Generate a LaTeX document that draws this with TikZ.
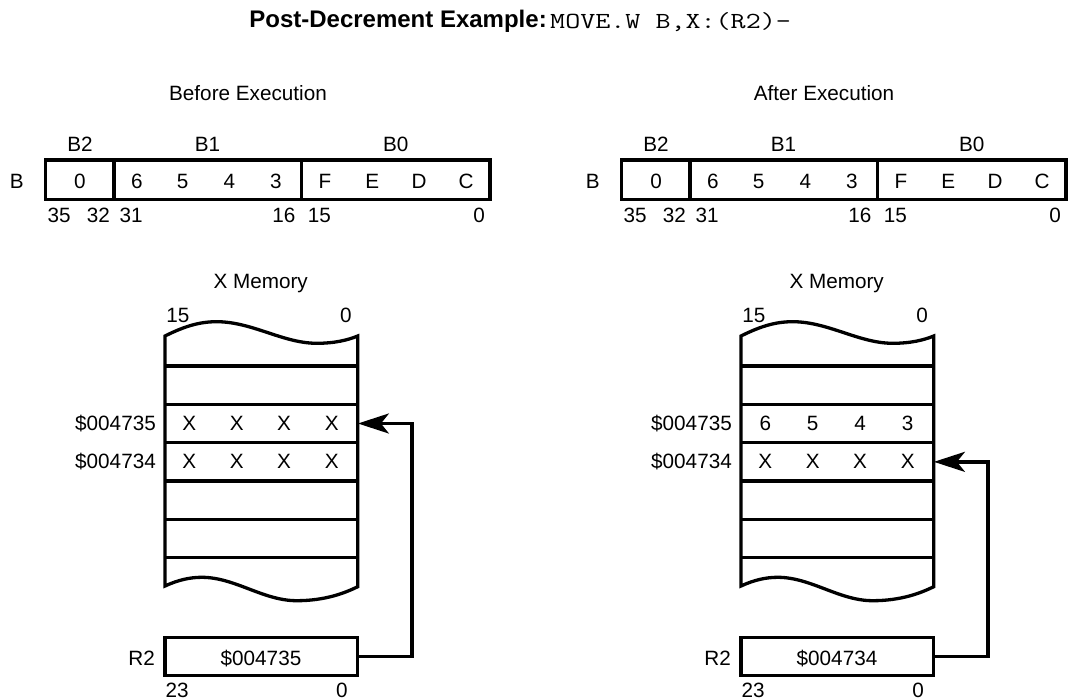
\documentclass[tikz,border=0pt]{standalone}
\usepackage{fontspec}
\setmainfont{Liberation Sans}
\usetikzlibrary{arrows.meta}
\newcommand\lbf{\fontsize{20.7}{24}\selectfont}
\newcommand\addr[1]{#1}
\tikzset{
  txt/.style={font=\lbf, inner sep=0pt, anchor=base},
  rtxt/.style={font=\lbf, inner sep=0pt, anchor=base east},
  cell/.style={draw, line width=3.3pt, inner sep=0pt, minimum height=39.3pt},
  rowc/.style={inner sep=0pt, minimum width=192.7pt, minimum height=38.3pt},
  wire/.style={line width=3.3pt},
  ptr/.style={line width=3.3pt, -{Stealth[length=31pt,width=20pt,inset=8pt]}},
}
% #1 prefix, #2 shift, #3 title, #4-#7 row $004735 contents, #8 R2 value, #9 target row
\newcommand\mempanel[9]{%
\begin{scope}[xshift=#2]
  \node[txt] (#1title) at (248,100.5) {#3};
  \node[txt] (#1lbtwo) at (80,151.7) {B2};
  \node[txt] (#1lbone) at (207.5,151.7) {B1};
  \node[txt] (#1lbzero) at (395.8,151.7) {B0};
  \node[txt] (#1lB) at (16.7,188.3) {B};
  \node[cell, minimum width=68.3pt] (#1btwo) at (79.85,179.65) {};
  \node[cell, minimum width=187.7pt] (#1bone) at (207.85,179.65) {};
  \node[cell, minimum width=188.3pt] (#1bzero) at (395.85,179.65) {};
  \node[txt] (#1da) at (80,188.3) {0};
  \node[txt] (#1db) at (136.8,188.3) {6};
  \node[txt] (#1dc) at (182.7,188.3) {5};
  \node[txt] (#1dd) at (229.3,188.3) {4};
  \node[txt] (#1de) at (275.8,188.3) {3};
  \node[txt] (#1df) at (325,188.3) {F};
  \node[txt] (#1dg) at (372.2,188.3) {E};
  \node[txt] (#1dh) at (419,188.3) {D};
  \node[txt] (#1di) at (466,188.3) {C};
  \node[txt] (#1ba) at (59.2,222.3) {35};
  \node[txt] (#1bb) at (98.3,222.3) {32};
  \node[txt] (#1bc) at (131.2,222.3) {31};
  \node[txt] (#1bd) at (283.8,222.3) {16};
  \node[txt] (#1be) at (319.3,222.3) {15};
  \node[txt] (#1bf) at (479.2,222.3) {0};
  % X memory
  \node[txt] (#1xm) at (260.7,288.3) {X Memory};
  \node[txt] (#1mhi) at (177.8,322.3) {15};
  \node[txt] (#1mlo) at (346,322.3) {0};
  \draw[wire] (165,336) .. controls (185,326) and (200,321.7) .. (216.7,321.7)
     .. controls (252,321.7) and (283,343.3) .. (316.7,343.3)
     .. controls (335,343.3) and (348,340) .. (357.7,336)
     -- (357.7,586.7)
     .. controls (345,593) and (325,600.7) .. (296.7,600.7)
     .. controls (263,600.7) and (235,577.3) .. (201.7,577.3)
     .. controls (190,577.3) and (178,580) .. (165,586) -- cycle;
  \foreach \yy in {366,404.3,442.7,481,519.3,557.6}
    \draw[wire] (165,\yy) -- (357.7,\yy);
  \node[rowc] (#1r4735) at (261.35,423.5) {};
  \node[rowc] (#1r4734) at (261.35,461.85) {};
  \node[rtxt] (#1aa) at (156,430.5) {\addr{\$004735}};
  \node[rtxt] (#1ab) at (156,468.9) {\addr{\$004734}};
  \node[txt] (#1xa) at (189.3,430.5) {#4};
  \node[txt] (#1xb) at (236.7,430.5) {#5};
  \node[txt] (#1xc) at (284,430.5) {#6};
  \node[txt] (#1xd) at (331.7,430.5) {#7};
  \node[txt] (#1ya) at (189.3,468.9) {X};
  \node[txt] (#1yb) at (236.7,468.9) {X};
  \node[txt] (#1yc) at (284,468.9) {X};
  \node[txt] (#1yd) at (331.7,468.9) {X};
  % R2
  \node[cell, minimum width=192.7pt, minimum height=38.4pt] (#1r2) at (261.35,656.5) {};
  \node[txt] (#1rv) at (261,665.3) {\addr{#8}};
  \node[rtxt] (#1rl) at (155,665.3) {R2};
  \node[txt] (#1rhi) at (177.2,697.3) {23};
  \node[txt] (#1rlo) at (342,697.3) {0};
  \draw[ptr] (#1r2.east) -- ++(52.5,0) |- (#1r#9.east);
\end{scope}}

\begin{document}
\begin{tikzpicture}[x=1pt,y=-1pt]
  \clip (0,0) rectangle (1068,700);
  \fill[white] (0,0) rectangle (1068,700);
  \node[font=\fontsize{24}{28}\selectfont\bfseries, inner sep=0pt, anchor=base east] (ttl) at (547,27.5) {Post-Decrement Example:};
  \node[font=\fontsize{23}{28}\selectfont\ttfamily, inner sep=0pt, anchor=base west] (code) at (550,28.3) {\scalebox{1.27}[1]{MOVE.W B,X:(R2)-}};
  \mempanel{L}{0pt}{Before Execution}{X}{X}{X}{X}{\$004735}{4735}
  \mempanel{R}{576pt}{After Execution}{6}{5}{4}{3}{\$004734}{4734}
\end{tikzpicture}
\end{document}
